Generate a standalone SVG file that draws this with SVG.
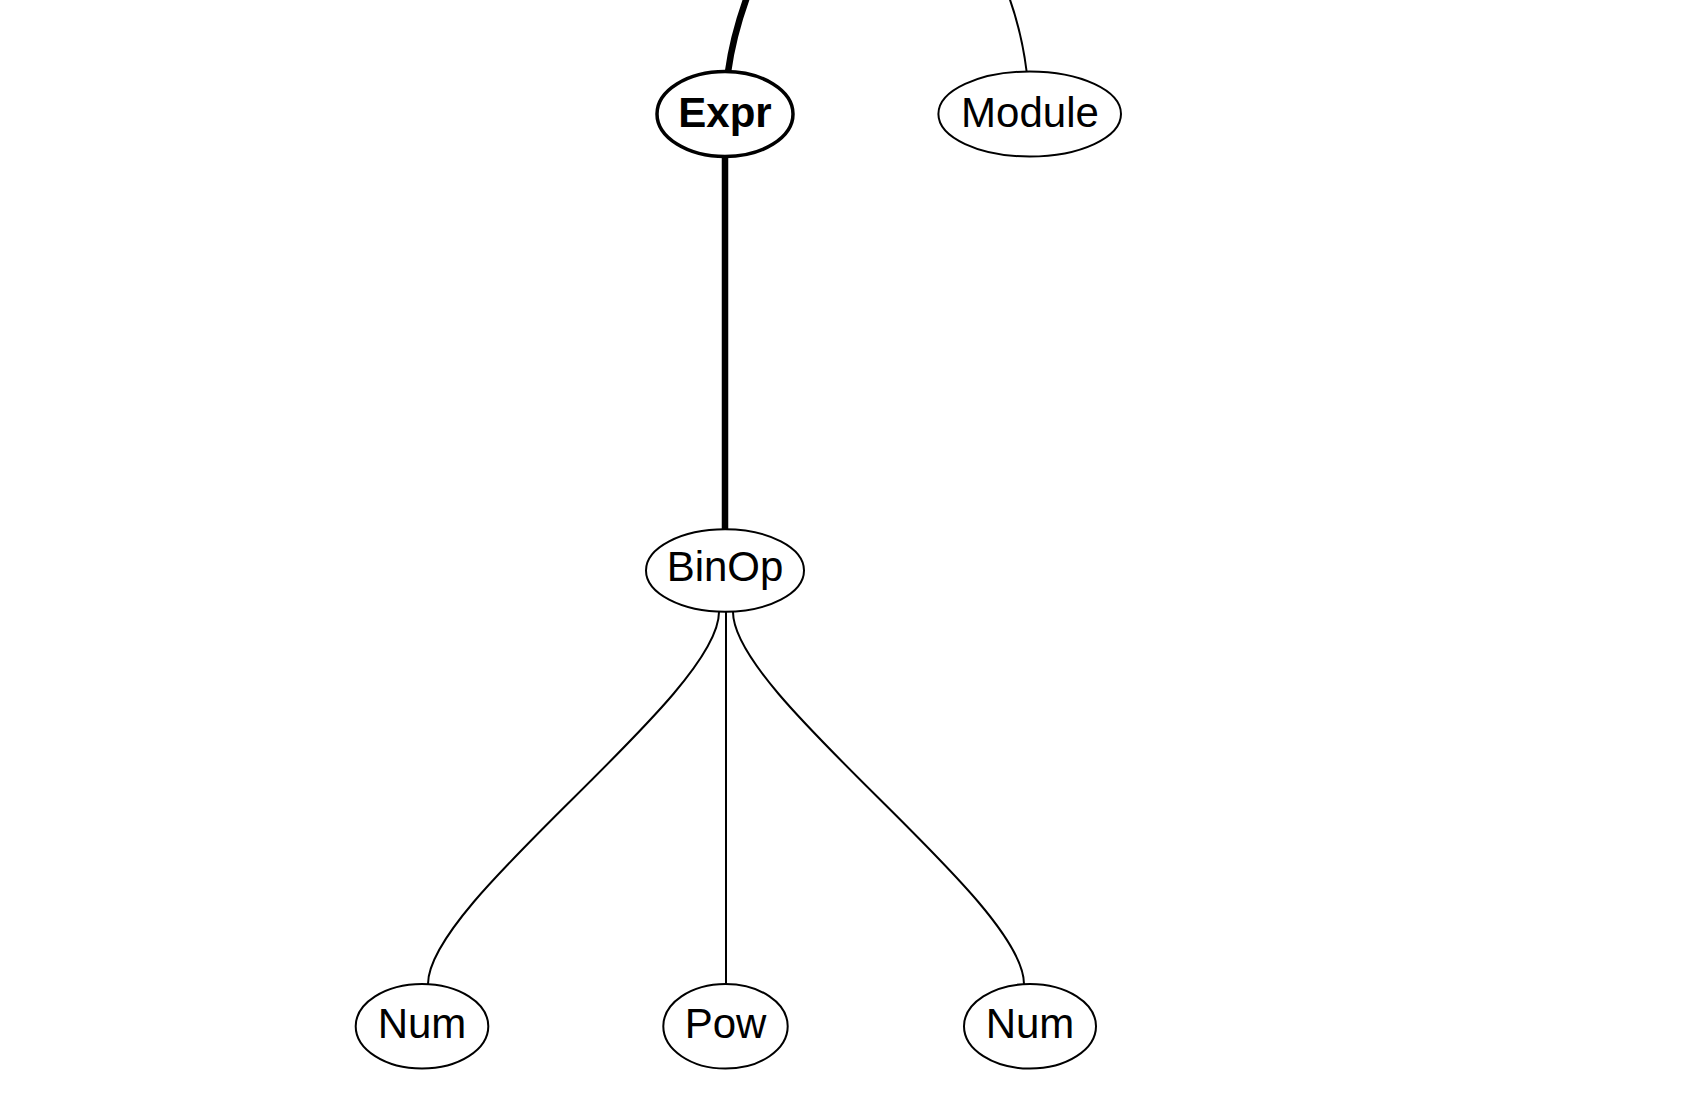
<svg xmlns="http://www.w3.org/2000/svg" width="1708" height="1094" viewBox="0 0 1708 1094">
<style>
.bg{fill:#ffffff}
.node ellipse{fill:none;stroke:#000;stroke-width:2}
.node.bold ellipse{stroke-width:3.5}
.node text{font-family:"Liberation Sans",Arial,sans-serif;font-size:42px;fill:#000;text-anchor:middle}
.node.bold text{font-weight:bold}
.edge{fill:none;stroke:#000;stroke-width:2}
.edge.bold{stroke-width:6.5}
</style>
<rect class="bg" x="0" y="0" width="1708" height="1094"/>
<g id="connectors">
<path class="edge bold" d="M728,72 C731,50 738,22 747,-3"/>
<path class="edge" d="M1026.7,72 C1024,50 1018,22 1009,-3"/>
<path class="edge bold" d="M725,156 L725,530"/>
<path class="edge" d="M719,612 C719,696 428,900 428,984"/>
<path class="edge" d="M726,612 L726,984"/>
<path class="edge" d="M733,612 C733,696 1024,900 1024,984"/>
</g>
<g id="node-expr" class="node bold">
<ellipse cx="725" cy="114" rx="68" ry="42.5"/>
<text x="725" y="127">Expr</text>
</g>
<g id="node-module" class="node">
<ellipse cx="1029.7" cy="114" rx="91.3" ry="42.5"/>
<text x="1030" y="127">Module</text>
</g>
<g id="node-binop" class="node">
<ellipse cx="725" cy="570.5" rx="79" ry="41.2"/>
<text x="725" y="580.5">BinOp</text>
</g>
<g id="node-num1" class="node">
<ellipse cx="422" cy="1026.3" rx="66.3" ry="42.3"/>
<text x="422" y="1037.5">Num</text>
</g>
<g id="node-pow" class="node">
<ellipse cx="725.5" cy="1026.3" rx="62.2" ry="42.3"/>
<text x="725.5" y="1037.5">Pow</text>
</g>
<g id="node-num2" class="node">
<ellipse cx="1030" cy="1026.3" rx="66" ry="42.3"/>
<text x="1030" y="1037.5">Num</text>
</g>
</svg>
